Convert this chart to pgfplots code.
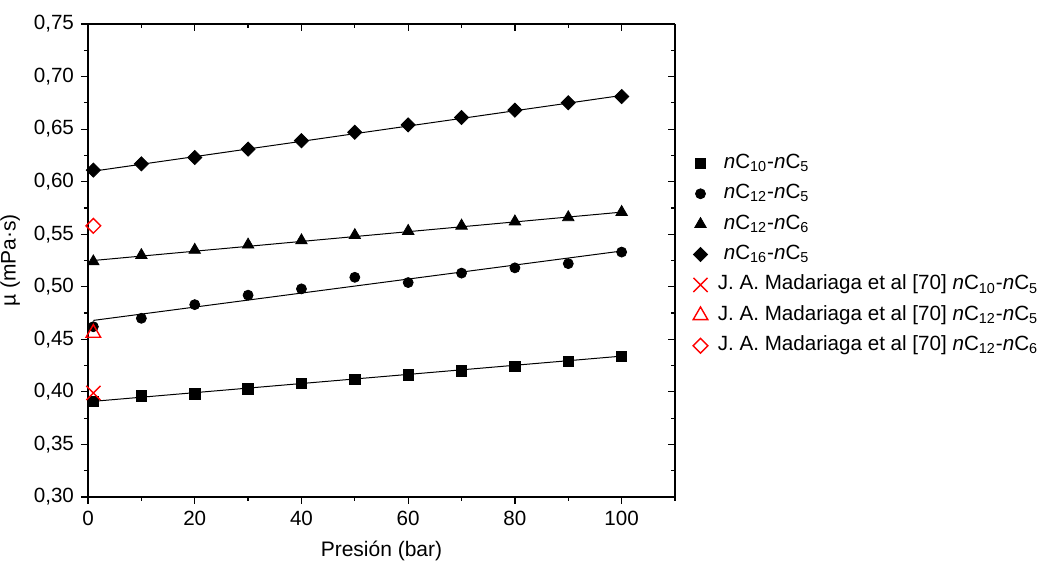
\documentclass[border=0pt]{standalone}
\usepackage{fontspec}
\setmainfont{Liberation Sans}
\usepackage{pgfplots}
\pgfplotsset{compat=1.18}
\definecolor{myred}{RGB}{255,0,0}
\newcommand{\nC}[1]{\textit{n}C\textsubscript{#1}}
\begin{document}
\begin{tikzpicture}
\pgfplotsset{
  common/.style={
    scale only axis, width=293.5pt, height=236.5pt,
    xmin=0, xmax=110, ymin=0.30, ymax=0.75,
    xtick={0,20,...,100}, minor xtick={10,30,...,110},
    ytick={0.30,0.35,...,0.76}, minor ytick={0.325,0.375,...,0.75},
    major tick length=3.5pt, minor tick length=2pt,
    every tick/.style={black, line width=0.6pt},
    axis line style={line width=0.8pt},
  }
}
\begin{axis}[common,
  axis x line*=bottom, axis y line*=left,
  tick align=outside,
  axis line style={-,line width=0.8pt},
  /pgf/number format/assume math mode=true,
  yticklabel style={/pgf/number format/.cd, use comma, fixed, fixed zerofill, precision=2},
  xticklabel style={/pgf/number format/.cd, fixed},
  ticklabel style={font=\fontsize{10.3}{12}\selectfont},
  xlabel={Presión (bar)}, ylabel={µ (mPa·s)},
  label style={font=\fontsize{10.5}{12}\selectfont},
  xlabel style={yshift=-1pt},
  legend style={at={(1.02,0.74)}, anchor=north west, draw=none, fill=none,
    font=\fontsize{10.3}{12}\selectfont,
    nodes={inner sep=1pt, text height=7.5pt, text depth=2.5pt},
    row sep=3.2pt},
  legend cell align=left,
  legend image code/.code={\draw[#1] plot coordinates {(0.1cm,0cm)};},
]
% fit lines
\addplot[forget plot, black, line width=0.5pt] coordinates {(1,0.391) (100,0.434)};
\addplot[forget plot, black, line width=0.5pt] coordinates {(1,0.468) (100,0.534)};
\addplot[forget plot, black, line width=0.5pt] coordinates {(1,0.525) (100,0.571)};
\addplot[forget plot, black, line width=0.5pt] coordinates {(1,0.610) (100,0.682)};
% data
\addplot[only marks, mark=square*, mark size=2.6pt, black] coordinates {
(1,0.391) (10,0.396) (20,0.398) (30,0.403) (40,0.408) (50,0.412) (60,0.416) (70,0.420) (80,0.424) (90,0.429) (100,0.434)};
\addlegendentry{\hspace{7pt}\nC{10}-\nC{5}}
\addplot[only marks, mark=*, mark size=2.5pt, black] coordinates {
(1,0.462) (10,0.470) (20,0.483) (30,0.492) (40,0.498) (50,0.509) (60,0.504) (70,0.513) (80,0.518) (90,0.522) (100,0.533)};
\addlegendentry{\hspace{7pt}\nC{12}-\nC{5}}
\addplot[only marks, mark=triangle*, mark size=3.3pt, black] coordinates {
(1,0.524) (10,0.530) (20,0.535) (30,0.540) (40,0.544) (50,0.549) (60,0.553) (70,0.558) (80,0.562) (90,0.566) (100,0.571)};
\addlegendentry{\hspace{7pt}\nC{12}-\nC{6}}
\addplot[only marks, mark=square*, mark size=2.5pt, mark options={rotate=45}, black] coordinates {
(1,0.611) (10,0.617) (20,0.623) (30,0.631) (40,0.639) (50,0.647) (60,0.654) (70,0.661) (80,0.668) (90,0.675) (100,0.681)};
\addlegendentry{\hspace{7pt}\nC{16}-\nC{5}}
\addplot[only marks, mark=x, mark size=5pt, myred, line width=0.7pt] coordinates {(1,0.399)};
\addlegendentry{\hspace{4pt}J. A. Madariaga et al [70] \nC{10}-\nC{5}}
\addplot[only marks, mark=triangle, mark size=4.2pt, myred, line width=0.7pt] coordinates {(1,0.456)};
\addlegendentry{\hspace{4pt}J. A. Madariaga et al [70] \nC{12}-\nC{5}}
\addplot[only marks, mark=square, mark size=2.6pt, mark options={rotate=45}, myred, line width=0.7pt] coordinates {(1,0.558)};
\addlegendentry{\hspace{4pt}J. A. Madariaga et al [70] \nC{12}-\nC{6}}
\coordinate (bl) at (rel axis cs:0,0);
\coordinate (tr) at (rel axis cs:1,1);
\end{axis}
\begin{axis}[common,
  axis x line*=top, axis y line*=right,
  tick align=inside,
  axis line style={-,line width=0.8pt},
  xticklabels={}, yticklabels={},
]
\end{axis}
\pgfresetboundingbox
\path[use as bounding box] ([shift={(-44pt,-33pt)}]bl) rectangle ([shift={(181.5pt,12pt)}]tr);
\end{tikzpicture}
\end{document}
